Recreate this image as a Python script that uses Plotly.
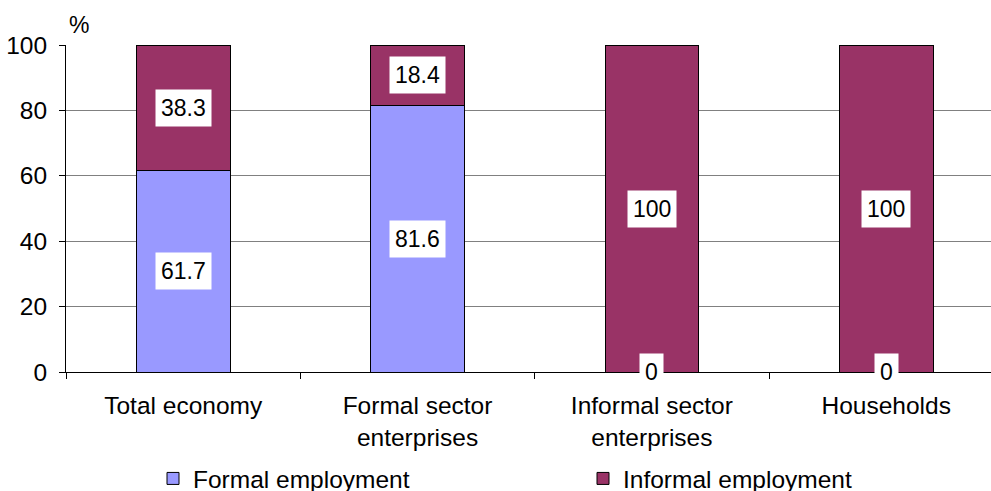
import plotly.graph_objects as go

categories = ["Total economy", "Formal sector<br>enterprises", "Informal sector<br>enterprises", "Households"]
formal = [61.7, 81.6, 0, 0]
informal = [38.3, 18.4, 100, 100]
series_names = ["Formal employment", "Informal employment"]
y_ticks = [0, 20, 40, 60, 80, 100]

FONT = "Arial, Liberation Sans, sans-serif"
FS = 24.5
FS_LABEL = 23

fig = go.Figure()
fig.add_trace(go.Bar(x=categories, y=formal, name=series_names[0], width=0.4, legend="legend",
                     marker=dict(color="#9999FF", line=dict(color="black", width=1))))
fig.add_trace(go.Bar(x=categories, y=informal, name=series_names[1], width=0.4, legend="legend2",
                     marker=dict(color="#993366", line=dict(color="black", width=1))))

annotations = []
for c, f, inf in zip(categories, formal, informal):
    for val, base in ((f, 0), (inf, f)):
        annotations.append(dict(x=c, y=base + val / 2, xref="x", yref="y",
                                text=f"{val:g}", showarrow=False, bgcolor="white",
                                borderpad=5, font=dict(family=FONT, size=FS_LABEL, color="black")))
annotations.append(dict(x=0, y=(372 - 25) / 327, xref="paper", yref="paper", text="%",
                        showarrow=False, xanchor="center", yanchor="middle", xshift=13,
                        font=dict(family=FONT, size=23, color="black")))

legend_common = dict(orientation="h", xref="container", yref="container",
                     xanchor="left", y=1 - 456 / 491, yanchor="top",
                     font=dict(family=FONT, size=FS, color="black"), bgcolor="rgba(0,0,0,0)")

fig.update_layout(
    barmode="stack",
    width=991, height=491,
    margin=dict(l=66, r=0, t=45, b=119, autoexpand=False),
    plot_bgcolor="white", paper_bgcolor="white",
    font=dict(family=FONT, size=FS, color="black"),
    annotations=annotations,
    showlegend=True,
    legend=dict(x=153 / 991, **legend_common),
    legend2=dict(x=583 / 991, **legend_common),
    bargap=0.6,
)
fig.update_xaxes(type="category", range=[-0.5, 3.447], tickson="boundaries", ticks="outside",
                 ticklen=6, tickcolor="black", showline=True, linecolor="black", linewidth=1,
                 showgrid=False, ticklabelstandoff=12,
                 tickfont=dict(family=FONT, size=FS, color="black"))
fig.update_yaxes(range=[0, 100], tickvals=y_ticks, ticks="outside", ticklen=6, tickcolor="black",
                 showline=True, linecolor="black", linewidth=1, showgrid=True,
                 gridcolor="#808080", gridwidth=1, zeroline=False, ticklabelstandoff=7,
                 tickfont=dict(family=FONT, size=FS, color="black"))

fig.write_html("out.html")
